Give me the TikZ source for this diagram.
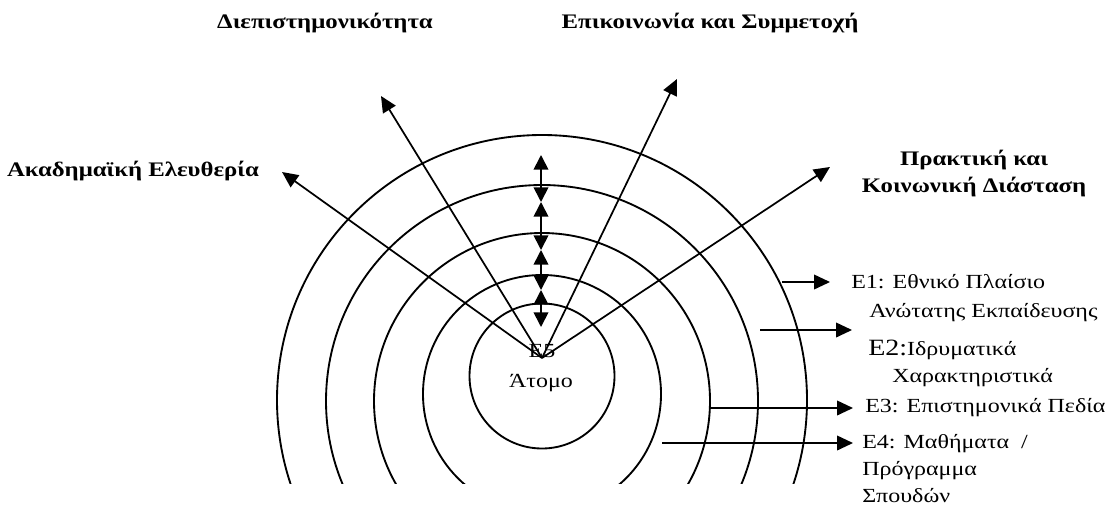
\documentclass[tikz,border=0pt]{standalone}
\usepackage{fontspec}
\setmainfont{Liberation Serif}[FakeStretch=1.2]
\usetikzlibrary{arrows.meta}
\begin{document}
\begin{tikzpicture}[x=0.75pt,y=-0.75pt,
  ring/.style={line width=1.4pt},
  ray/.style={line width=1.3pt,-{Triangle[length=12pt,width=11pt]}},
  dbl/.style={line width=1.3pt,{Triangle[length=11pt,width=11pt]}-{Triangle[length=11pt,width=11pt]}},
  lab/.style={inner sep=0pt,font=\fontsize{15}{18}\selectfont},
  blab/.style={inner sep=0pt,font=\fontsize{15.5}{18}\selectfont\bfseries},
]
\useasboundingbox (0,0) rectangle (1120,511);
% rings
\begin{scope}
\clip (0,0) rectangle (1120,483);
\draw[ring] (542,400) circle[radius=265];
\draw[ring] (542,401) circle[radius=216];
\draw[ring] (542,401) circle[radius=168];
\draw[ring] (542,394) circle[radius=119];
\draw[ring] (542,376) circle[radius=72.5];
\end{scope}
% centre texts
\node[lab,anchor=base] (e5) at (542,357) {E5};
\node[lab,anchor=base] (atomo) at (541,387) {Άτομο};
% rays
\coordinate (o) at (542,358);
\coordinate (tA) at (282,172);
\coordinate (tB) at (381,96);
\coordinate (tC) at (677,79);
\coordinate (tD) at (830,167);
\draw[ray] (o) -- (tA);
\draw[ray] (o) -- (tB);
\draw[ray] (o) -- (tC);
\draw[ray] (o) -- (tD);
% stacked double arrows
\coordinate (s0) at (541,155);
\coordinate (s1) at (541,202);
\coordinate (s2) at (541,250);
\coordinate (s3) at (541,290);
\coordinate (s4) at (541,327);
\draw[dbl] (s0) -- (s1);
\draw[dbl] (s1) -- (s2);
\draw[dbl] (s2) -- (s3);
\draw[dbl] (s3) -- (s4);
% level arrows
\coordinate (h1a) at (782,282); \coordinate (h1b) at (830,282);
\coordinate (h2a) at (760,330); \coordinate (h2b) at (852,330);
\coordinate (h3a) at (710,408); \coordinate (h3b) at (853,408);
\coordinate (h4a) at (662,443); \coordinate (h4b) at (853,443);
\draw[ray] (h1a) -- (h1b);
\draw[ray] (h2a) -- (h2b);
\draw[ray] (h3a) -- (h3b);
\draw[ray] (h4a) -- (h4b);
% bold labels
\node[blab,anchor=base] (acad) at (133,176) {Ακαδημαϊκή Ελευθερία};
\node[blab,anchor=base] (diep) at (325,28) {Διεπιστημονικότητα};
\node[blab,anchor=base] (epik) at (710,28) {Επικοινωνία και Συμμετοχή};
\node[blab,anchor=base] (prak1) at (974,165) {Πρακτική και};
\node[blab,anchor=base] (prak2) at (974,192) {Κοινωνική Διάσταση};
% level labels
\node[lab,anchor=base west] (l1a) at (851,288) {E1: Εθνικό Πλαίσιο};
\node[lab,anchor=base west] (l1b) at (869,317) {Ανώτατης Εκπαίδευσης};
\node[lab,anchor=base west] (l2a) at (868,355) {{\fontsize{17.5}{20}\selectfont E2:}Ιδρυματικά};
\node[lab,anchor=base west] (l2b) at (892,382) {Χαρακτηριστικά};
\node[lab,anchor=base west] (l3) at (865,412) {E3: Επιστημονικά Πεδία};
\node[lab,anchor=base west] (l4a) at (862,448) {E4: Μαθήματα~~/};
\node[lab,anchor=base west] (l4b) at (862,475) {Πρόγραμμα};
\node[lab,anchor=base west] (l4c) at (862,502) {Σπουδών};
\end{tikzpicture}
\end{document}
